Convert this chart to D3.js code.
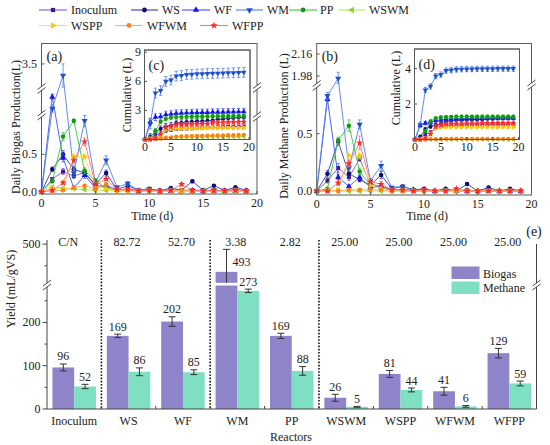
<!DOCTYPE html>
<html><head><meta charset="utf-8">
<script src="https://cdn.jsdelivr.net/npm/d3@7"></script>
<style>
body{margin:0;background:#fff}
svg{display:block}
</style></head>
<body><svg id="c" width="550" height="445"></svg>
<script>
// ---------------- DATA ----------------
const days = [0,1,2,3,4,5,6,7,8,9,10,11,12,13,14,15,16,17,18,19];
const reactors = ["Inoculum","WS","WF","WM","PP","WSWM","WSPP","WFWM","WFPP"];

// (a) daily biogas production (L)
const biogasDaily_Inoculum = [0,0.17,0.27,0.21,0.26,0.08,0.08,0.03,0.03,0.02,0.03,0.02,0.02,0.02,0.02,0.02,0.02,0.01,0.03,0.01];
const biogasDaily_WS       = [0,0.30,0.50,0.30,0.25,0.10,0.25,0.03,0.08,0.02,0.04,0.01,0.05,0.02,0.14,0.02,0.08,0.02,0.06,0.02];
const biogasDaily_WF       = [0,1.85,0.45,0.05,0.22,0.05,0.08,0.02,0.03,0.01,0.02,0.01,0.01,0.01,0.01,0.01,0.01,0.01,0.01,0.01];
const biogasDaily_WM       = [0,1.60,3.20,0.25,0.95,0.12,0.42,0.06,0.11,0.02,0.04,0.01,0.03,0.01,0.02,0.01,0.02,0.01,0.03,0.01];
const biogasDaily_PP       = [0,0.14,0.74,0.95,0.28,0.15,0.05,0.02,0.02,0.01,0.01,0.01,0.01,0.01,0.01,0.00,0.01,0.00,0.01,0.00];
const biogasDaily_WSWM     = [0,0.06,0.05,0.04,0.03,0.02,0.02,0.01,0.01,0.01,0.01,0.01,0.01,0.01,0.00,0.01,0.00,0.00,0.01,0.00];
const biogasDaily_WSPP     = [0,0.05,0.03,0.47,0.47,0.07,0.04,0.01,0.01,0.01,0.01,0.00,0.01,0.00,0.01,0.00,0.01,0.00,0.01,0.00];
const biogasDaily_WFWM     = [0,0.01,0.02,0.06,0.08,0.04,0.10,0.02,0.02,0.01,0.02,0.01,0.01,0.02,0.01,0.01,0.01,0.01,0.02,0.01];
const biogasDaily_WFPP     = [0,0.02,0.12,0.42,0.67,0.10,0.17,0.03,0.03,0.01,0.02,0.01,0.02,0.10,0.02,0.01,0.02,0.01,0.02,0.01];

const biogasErr_Inoculum = [0,0.02,0.04,0.03,0.03,0.02,0.01,0.01,0.01,0.01,0.01,0.01,0.01,0.01,0.01,0.01,0.01,0.01,0.01,0.01];
const biogasErr_WS       = [0,0.03,0.05,0.04,0.03,0.02,0.04,0.01,0.02,0.01,0.01,0.01,0.01,0.01,0.02,0.01,0.01,0.01,0.01,0.01];
const biogasErr_WF       = [0,0.06,0.05,0.02,0.04,0.02,0.02,0.01,0.01,0.01,0.01,0.01,0.01,0.01,0.01,0.01,0.01,0.01,0.01,0.01];
const biogasErr_WM       = [0,0.08,0.30,0.05,0.08,0.03,0.06,0.02,0.03,0.01,0.01,0.01,0.01,0.01,0.01,0.01,0.01,0.01,0.01,0.01];
const biogasErr_PP       = [0,0.02,0.05,0.02,0.04,0.02,0.01,0.01,0.01,0.01,0.01,0.01,0.01,0.01,0.01,0.01,0.01,0.01,0.01,0.01];
const biogasErr_WSWM     = [0,0.01,0.01,0.01,0.01,0.01,0.01,0.01,0.01,0.01,0.01,0.01,0.01,0.01,0.01,0.01,0.01,0.01,0.01,0.01];
const biogasErr_WSPP     = [0,0.01,0.01,0.04,0.04,0.02,0.01,0.01,0.01,0.01,0.01,0.01,0.01,0.01,0.01,0.01,0.01,0.01,0.01,0.01];
const biogasErr_WFWM     = [0,0.01,0.01,0.01,0.02,0.01,0.02,0.01,0.01,0.01,0.01,0.01,0.01,0.01,0.01,0.01,0.01,0.01,0.01,0.01];
const biogasErr_WFPP     = [0,0.01,0.02,0.04,0.05,0.02,0.02,0.01,0.01,0.01,0.01,0.01,0.01,0.02,0.01,0.01,0.01,0.01,0.01,0.01];

// (c) cumulative biogas (L)
const biogasCum_Inoculum = [0,0.17,0.44,0.65,0.91,0.99,1.07,1.10,1.13,1.15,1.18,1.20,1.22,1.24,1.26,1.28,1.30,1.31,1.34,1.35];
const biogasCum_WS       = [0,0.30,0.80,1.10,1.35,1.45,1.70,1.73,1.81,1.83,1.87,1.88,1.93,1.95,2.09,2.11,2.19,2.21,2.27,2.29];
const biogasCum_WF       = [0,1.85,2.30,2.35,2.57,2.62,2.70,2.72,2.75,2.76,2.78,2.79,2.80,2.81,2.82,2.83,2.84,2.85,2.86,2.87];
const biogasCum_WM       = [0,1.60,4.80,5.05,6.00,6.12,6.54,6.60,6.71,6.73,6.77,6.78,6.81,6.82,6.84,6.85,6.87,6.88,6.91,6.92];
const biogasCum_PP       = [0,0.14,0.88,1.83,2.11,2.26,2.31,2.33,2.35,2.36,2.37,2.38,2.39,2.40,2.41,2.41,2.42,2.42,2.43,2.43];
const biogasCum_WSWM     = [0,0.06,0.11,0.15,0.18,0.20,0.22,0.23,0.24,0.25,0.26,0.27,0.28,0.29,0.29,0.30,0.30,0.30,0.31,0.31];
const biogasCum_WSPP     = [0,0.05,0.08,0.55,1.02,1.09,1.13,1.14,1.15,1.16,1.17,1.17,1.18,1.18,1.19,1.19,1.20,1.20,1.21,1.21];
const biogasCum_WFWM     = [0,0.01,0.03,0.09,0.17,0.21,0.31,0.33,0.35,0.36,0.38,0.39,0.40,0.42,0.43,0.44,0.45,0.46,0.48,0.49];
const biogasCum_WFPP     = [0,0.02,0.14,0.56,1.23,1.33,1.50,1.53,1.56,1.57,1.59,1.60,1.62,1.72,1.74,1.75,1.77,1.78,1.80,1.81];
const biogasCumErr = [0.15,0.30,0.35,0.50,0.20,0.10,0.15,0.12,0.20];

// (b) daily methane production (L)
const methaneDaily_Inoculum = [0,0.09,0.20,0.12,0.28,0.06,0.04,0.01,0.01,0.00,0.01,0.00,0.01,0.00,0.01,0.00,0.01,0.00,0.01,0.00];
const methaneDaily_WS       = [0,0.15,0.43,0.15,0.10,0.05,0.14,0.02,0.04,0.01,0.02,0.00,0.02,0.00,0.06,0.00,0.03,0.00,0.02,0.00];
const methaneDaily_WF       = [0,0.80,0.12,0.04,0.12,0.03,0.04,0.01,0.01,0.01,0.01,0.00,0.01,0.00,0.00,0.00,0.00,0.00,0.00,0.00];
const methaneDaily_WM       = [0,0.83,1.96,0.20,0.58,0.09,0.22,0.03,0.04,0.01,0.01,0.00,0.01,0.00,0.00,0.00,0.01,0.00,0.00,0.00];
const methaneDaily_PP       = [0,0.02,0.44,0.57,0.17,0.05,0.02,0.01,0.01,0.00,0.00,0.00,0.00,0.00,0.00,0.00,0.00,0.00,0.00,0.00];
const methaneDaily_WSWM     = [0,0.01,0.00,0.00,0.00,0.00,0.00,0.00,0.00,0.00,0.00,0.00,0.00,0.00,0.00,0.00,0.00,0.00,0.00,0.00];
const methaneDaily_WSPP     = [0,0.00,0.01,0.31,0.31,0.05,0.02,0.00,0.00,0.00,0.00,0.00,0.00,0.00,0.00,0.00,0.00,0.00,0.00,0.00];
const methaneDaily_WFWM     = [0,0.00,0.00,0.01,0.01,0.01,0.01,0.00,0.00,0.00,0.00,0.00,0.00,0.00,0.00,0.00,0.00,0.00,0.00,0.00];
const methaneDaily_WFPP     = [0,0.00,0.07,0.24,0.42,0.08,0.06,0.01,0.01,0.00,0.01,0.00,0.00,0.02,0.00,0.00,0.00,0.00,0.00,0.00];

const methaneErr_Inoculum = [0,0.02,0.04,0.03,0.02,0.01,0.01,0.01,0.01,0.01,0.01,0.01,0.01,0.01,0.01,0.01,0.01,0.01,0.01,0.01];
const methaneErr_WS       = [0,0.03,0.03,0.02,0.02,0.01,0.03,0.01,0.01,0.01,0.01,0.01,0.01,0.01,0.01,0.01,0.01,0.01,0.01,0.01];
const methaneErr_WF       = [0,0.02,0.02,0.01,0.02,0.01,0.01,0.01,0.01,0.01,0.01,0.01,0.01,0.01,0.01,0.01,0.01,0.01,0.01,0.01];
const methaneErr_WM       = [0,0.03,0.05,0.03,0.04,0.02,0.04,0.01,0.01,0.01,0.01,0.01,0.01,0.01,0.01,0.01,0.01,0.01,0.01,0.01];
const methaneErr_PP       = [0,0.01,0.03,0.05,0.03,0.01,0.01,0.01,0.01,0.01,0.01,0.01,0.01,0.01,0.01,0.01,0.01,0.01,0.01,0.01];
const methaneErr_WSWM     = [0,0.01,0.02,0.01,0.01,0.01,0.01,0.01,0.01,0.01,0.01,0.01,0.01,0.01,0.01,0.01,0.01,0.01,0.01,0.01];
const methaneErr_WSPP     = [0,0.01,0.01,0.03,0.03,0.01,0.01,0.01,0.01,0.01,0.01,0.01,0.01,0.01,0.01,0.01,0.01,0.01,0.01,0.01];
const methaneErr_WFWM     = [0,0.01,0.01,0.01,0.01,0.01,0.01,0.01,0.01,0.01,0.01,0.01,0.01,0.01,0.01,0.01,0.01,0.01,0.01,0.01];
const methaneErr_WFPP     = [0,0.01,0.02,0.03,0.06,0.02,0.02,0.01,0.01,0.01,0.01,0.01,0.01,0.01,0.01,0.01,0.01,0.01,0.01,0.01];

// (d) cumulative methane (L)
const methaneCum_Inoculum = [0,0.09,0.29,0.41,0.69,0.75,0.79,0.80,0.81,0.81,0.82,0.82,0.83,0.83,0.84,0.84,0.85,0.85,0.86,0.86];
const methaneCum_WS       = [0,0.15,0.58,0.73,0.83,0.88,1.02,1.04,1.08,1.09,1.11,1.11,1.13,1.13,1.19,1.19,1.22,1.22,1.24,1.24];
const methaneCum_WF       = [0,0.80,0.92,0.96,1.08,1.11,1.15,1.16,1.17,1.18,1.19,1.19,1.20,1.20,1.20,1.20,1.20,1.20,1.20,1.20];
const methaneCum_WM       = [0,0.83,2.79,2.99,3.57,3.66,3.88,3.91,3.95,3.96,3.97,3.97,3.98,3.98,3.98,3.98,3.99,3.99,3.99,3.99];
const methaneCum_PP       = [0,0.02,0.46,1.03,1.20,1.25,1.27,1.28,1.29,1.29,1.29,1.29,1.29,1.29,1.29,1.29,1.29,1.29,1.29,1.29];
const methaneCum_WSWM     = [0,0.01,0.01,0.01,0.01,0.01,0.01,0.01,0.01,0.01,0.01,0.01,0.01,0.01,0.01,0.01,0.01,0.01,0.01,0.01];
const methaneCum_WSPP     = [0,0.00,0.01,0.32,0.63,0.68,0.70,0.70,0.70,0.70,0.70,0.70,0.70,0.70,0.70,0.70,0.70,0.70,0.70,0.70];
const methaneCum_WFWM     = [0,0.00,0.00,0.01,0.02,0.03,0.04,0.04,0.04,0.04,0.04,0.04,0.04,0.04,0.04,0.04,0.04,0.04,0.04,0.04];
const methaneCum_WFPP     = [0,0.00,0.07,0.31,0.73,0.81,0.87,0.88,0.89,0.89,0.90,0.90,0.90,0.92,0.92,0.92,0.92,0.92,0.92,0.92];
const methaneCumErr = [0.08,0.10,0.10,0.15,0.08,0.01,0.08,0.01,0.10];

// (e) yields (mL/gVS)
const cnLabels       = ["C/N","82.72","52.70","3.38","2.82","25.00","25.00","25.00","25.00"];
const biogasYield    = [96,169,202,436,169,26,81,41,129];
const biogasYieldErr = [8,4,11,52,6,8,8,9,11];
const biogasLabels   = ["96","169","202","493","169","26","81","41","129"];
const methaneYield   = [52,86,85,273,88,5,44,6,59];
const methaneYieldErr= [5,9,5.5,4,10,1,4.5,2,5.5];
const methaneLabels  = ["52","86","85","273","88","5","44","6","59"];
const separatorsAfter = ["Inoculum","WF","PP"];

// axis tick labels
const dayTicks = [0,5,10,15,20];
const aTicks = [0,0.5,3.5];
const bTicks = [0,0.5,1.98,2.16];
const cTicks = [3,6,9];
const dTicks = [2,4];
const eMajor = [0,100,200,500];
const eMinor = [50,150,250,450];

// ---------------- STYLE ----------------
const FONT = "Liberation Serif";
const styles = {
  Inoculum:{line:"#7c5ec6", mark:"#42198c", sym:d3.symbolSquare,   rot:0},
  WS:      {line:"#3a3aa6", mark:"#0c0c7c", sym:d3.symbolCircle,   rot:0},
  WF:      {line:"#4050ff", mark:"#1414e0", sym:d3.symbolTriangle, rot:0},
  WM:      {line:"#4f80e6", mark:"#1f50cc", sym:d3.symbolTriangle, rot:180},
  PP:      {line:"#36c836", mark:"#119a11", sym:d3.symbolCircle,   rot:0},
  WSWM:    {line:"#b2e852", mark:"#8ed024", sym:d3.symbolTriangle, rot:-90},
  WSPP:    {line:"#ffe04c", mark:"#ffc400", sym:d3.symbolTriangle, rot:90},
  WFWM:    {line:"#ffab68", mark:"#ff8014", sym:d3.symbolCircle,   rot:0},
  WFPP:    {line:"#ff7474", mark:"#ff2626", sym:d3.symbolStar,     rot:0}
};
const FRAME = "#5a5a5a";
const BIO = "#8d84c9", MET = "#7fdfc3";

const svg = d3.select("#c");

function txt(g, x, y, s, size, anchor){
  return g.append("text").attr("x",x).attr("y",y).attr("font-size",size).attr("font-family",FONT)
    .attr("fill","#222").attr("text-anchor",anchor||"start").text(s);
}
function vtxt(g, x, y, s, size){
  g.append("text").attr("transform",`translate(${x},${y}) rotate(-90)`).attr("font-size",size).attr("font-family",FONT)
    .attr("fill","#222").attr("text-anchor","middle").text(s);
}
function breakMark(g, x, y){
  g.append("rect").attr("x",x-4).attr("y",y-2).attr("width",8).attr("height",4).attr("fill","#fff");
  g.append("line").attr("x1",x-4).attr("y1",y+1).attr("x2",x+4).attr("y2",y-5).attr("stroke","#333").attr("stroke-width",0.9);
  g.append("line").attr("x1",x-4).attr("y1",y+5).attr("x2",x+4).attr("y2",y-1).attr("stroke","#333").attr("stroke-width",0.9);
}

function plotSeries(g, xs, ys, values, errs, st, symSize){
  const pts = days.map((d,i)=>({d, v:values[i], e:(Array.isArray(errs)?errs[i]:(values[i]>0?errs:0))}));
  g.append("path").datum(pts).attr("fill","none").attr("stroke",st.line).attr("stroke-width",0.9)
    .attr("d", d3.line().x(p=>xs(p.d)).y(p=>ys(p.v)));
  const eb = g.append("g").attr("stroke",st.line).attr("stroke-width",0.8);
  pts.filter(p=>p.e>0).forEach(p=>{
    const x=xs(p.d), y1=ys(p.v+p.e), y2=ys(p.v-p.e);
    eb.append("line").attr("x1",x).attr("x2",x).attr("y1",y1).attr("y2",y2);
    eb.append("line").attr("x1",x-1.6).attr("x2",x+1.6).attr("y1",y1).attr("y2",y1);
    eb.append("line").attr("x1",x-1.6).attr("x2",x+1.6).attr("y1",y2).attr("y2",y2);
  });
  g.selectAll(null).data(pts).join("path")
    .attr("transform",p=>`translate(${xs(p.d)},${ys(p.v)}) rotate(${st.rot})`)
    .attr("d", d3.symbol().type(st.sym).size(symSize))
    .attr("fill", st.mark);
}

// ---------------- LEGEND ----------------
const legendPos = [
  {x0:39,x1:67,tx:71,y:10},{x0:131,x1:158,tx:162,y:10},{x0:182,x1:210,tx:214,y:10},
  {x0:236,x1:263,tx:267,y:10},{x0:289,x1:317,tx:320,y:10},{x0:339,x1:365,tx:369,y:10},
  {x0:39,x1:67,tx:71,y:25.5},{x0:115,x1:143,tx:147,y:25.5},{x0:200,x1:228,tx:232,y:25.5}
];
const lg = svg.append("g");
reactors.forEach((r,i)=>{
  const p = legendPos[i], st = styles[r];
  lg.append("line").attr("x1",p.x0).attr("x2",p.x1).attr("y1",p.y).attr("y2",p.y).attr("stroke",st.line).attr("stroke-width",1.1);
  lg.append("path").attr("transform",`translate(${(p.x0+p.x1)/2},${p.y}) rotate(${st.rot})`)
    .attr("d", d3.symbol().type(st.sym).size(18)).attr("fill",st.mark);
  txt(lg, p.tx, p.y+4, r, 12);
});

// ---------------- MAIN PANELS ----------------
function mainPanel(cfg){
  const g = svg.append("g");
  const xs = d3.scaleLinear().domain([0,20]).range([cfg.x0,cfg.x1]);
  const ys = d3.scaleLinear().domain(cfg.yDom).range(cfg.yRng);
  reactors.forEach((r,i)=>plotSeries(g, xs, ys, cfg.data[i], cfg.err[i], styles[r], 16));
  g.append("rect").attr("x",cfg.x0).attr("y",cfg.top).attr("width",cfg.x1-cfg.x0).attr("height",cfg.bottom-cfg.top)
    .attr("fill","none").attr("stroke",FRAME).attr("stroke-width",1);
  dayTicks.forEach(t=>{
    g.append("line").attr("x1",xs(t)).attr("x2",xs(t)).attr("y1",cfg.bottom).attr("y2",cfg.bottom-3).attr("stroke",FRAME);
    txt(g, xs(t), cfg.bottom+12.5, String(t), 12, "middle");
  });
  cfg.yTicks.forEach((t,k)=>{
    g.append("line").attr("x1",cfg.x0).attr("x2",cfg.x0+3).attr("y1",ys(t)).attr("y2",ys(t)).attr("stroke",FRAME);
    txt(g, cfg.x0-4.5, ys(t)+4, cfg.yLabels[k], 12, "end");
  });
  cfg.breaksL.forEach(y=>breakMark(g, cfg.x0, y));
  cfg.breaksR.forEach(y=>breakMark(g, cfg.x1, y));
  txt(g, cfg.x0+5, 60.5, cfg.tag, 14);
  txt(g, (cfg.x0+cfg.x1)/2+3, 220, "Time (d)", 12, "middle");
  vtxt(g, cfg.titleX, cfg.titleY, cfg.title, 12);
  return g;
}
function inset(cfg){
  const g = svg.append("g");
  g.append("rect").attr("x",cfg.x0).attr("y",cfg.top).attr("width",cfg.x1-cfg.x0).attr("height",cfg.bottom-cfg.top)
    .attr("fill","#fff").attr("stroke",FRAME).attr("stroke-width",1);
  const xs = d3.scaleLinear().domain([0,20]).range([cfg.x0+0.5,cfg.x1-1]);
  const ys = d3.scaleLinear().domain([0,cfg.yMax]).range([cfg.bottom,cfg.yMaxPx]);
  reactors.forEach((r,i)=>plotSeries(g, xs, ys, cfg.data[i], cfg.err[i], styles[r], 13));
  g.append("rect").attr("x",cfg.x0).attr("y",cfg.top).attr("width",cfg.x1-cfg.x0).attr("height",cfg.bottom-cfg.top)
    .attr("fill","none").attr("stroke",FRAME).attr("stroke-width",1);
  dayTicks.forEach(t=>{
    g.append("line").attr("x1",xs(t)).attr("x2",xs(t)).attr("y1",cfg.bottom).attr("y2",cfg.bottom-2.5).attr("stroke",FRAME);
    txt(g, xs(t), cfg.bottom+11.5, String(t), 12, "middle");
  });
  cfg.yTicks.forEach(t=>{
    g.append("line").attr("x1",cfg.x0).attr("x2",cfg.x0+2.5).attr("y1",ys(t)).attr("y2",ys(t)).attr("stroke",FRAME);
    txt(g, cfg.x0-3.5, ys(t)+4, String(t), 12, "end");
  });
  txt(g, cfg.x0+4, cfg.top+20, cfg.tag, 14);
  vtxt(g, cfg.titleX, cfg.titleY, "Cumulative (L)", 12);
}

mainPanel({
  x0:41.5, x1:257, top:43.5, bottom:194,
  yDom:[-0.03,1.02,1.5,2.0,2.9,4.03], yRng:[194,115.5,113,90,87,43.5],
  yTicks:aTicks, yLabels:["0.0","0.5","3.5"],
  breaksL:[115,88.5], breaksR:[116.5,87.5],
  data:[biogasDaily_Inoculum,biogasDaily_WS,biogasDaily_WF,biogasDaily_WM,biogasDaily_PP,biogasDaily_WSWM,biogasDaily_WSPP,biogasDaily_WFWM,biogasDaily_WFPP],
  err:[biogasErr_Inoculum,biogasErr_WS,biogasErr_WF,biogasErr_WM,biogasErr_PP,biogasErr_WSWM,biogasErr_WSPP,biogasErr_WFWM,biogasErr_WFPP],
  tag:"(a)", title:"Daily Biogas Production(L)", titleX:20, titleY:127
});
inset({
  x0:144.5, x1:250, top:50, bottom:139.5, yMax:9, yMaxPx:52.3, yTicks:cTicks,
  data:[biogasCum_Inoculum,biogasCum_WS,biogasCum_WF,biogasCum_WM,biogasCum_PP,biogasCum_WSWM,biogasCum_WSPP,biogasCum_WFWM,biogasCum_WFPP],
  err:biogasCumErr, tag:"(c)", titleX:131, titleY:95
});
mainPanel({
  x0:316.7, x1:531.5, top:43.5, bottom:195,
  yDom:[-0.035,0.9,1.92,2.246], yRng:[195,87.8,83.3,43.5],
  yTicks:bTicks, yLabels:["0.0","0.5","1.98","2.16"],
  breaksL:[85.5], breaksR:[85],
  data:[methaneDaily_Inoculum,methaneDaily_WS,methaneDaily_WF,methaneDaily_WM,methaneDaily_PP,methaneDaily_WSWM,methaneDaily_WSPP,methaneDaily_WFWM,methaneDaily_WFPP],
  err:[methaneErr_Inoculum,methaneErr_WS,methaneErr_WF,methaneErr_WM,methaneErr_PP,methaneErr_WSWM,methaneErr_WSPP,methaneErr_WFWM,methaneErr_WFPP],
  tag:"(b)", title:"Daily Methane Production (L)", titleX:288, titleY:126
});
inset({
  x0:414.5, x1:519.5, top:49, bottom:139.5, yMax:4, yMaxPx:68.5, yTicks:dTicks,
  data:[methaneCum_Inoculum,methaneCum_WS,methaneCum_WF,methaneCum_WM,methaneCum_PP,methaneCum_WSWM,methaneCum_WSPP,methaneCum_WFWM,methaneCum_WFPP],
  err:methaneCumErr, tag:"(d)", titleX:400, titleY:88
});

// ---------------- PANEL (e) ----------------
const ge = svg.append("g");
const xE = d3.scaleBand().domain(reactors).range([47,536.5]).paddingInner(0.2).paddingOuter(0.1);
const yE = d3.scaleLinear().domain([0,286,410,520]).range([409,285.2,283.1,235.5]);
const bw = xE.bandwidth()/2, step = xE.step();
const E_TOP = 240;

separatorsAfter.forEach(r=>{
  const x = xE(r) + xE.bandwidth() + step*xE.paddingInner()/2;
  ge.append("line").attr("x1",x).attr("x2",x).attr("y1",E_TOP).attr("y2",409)
    .attr("stroke","#111").attr("stroke-width",1.6).attr("stroke-dasharray","1.6,1.6");
});
reactors.forEach((r,i)=>{
  const x = xE(r);
  ge.append("rect").attr("x",x).attr("y",yE(biogasYield[i])).attr("width",bw).attr("height",yE(0)-yE(biogasYield[i])).attr("fill",BIO);
  ge.append("rect").attr("x",x+bw).attr("y",yE(methaneYield[i])).attr("width",bw).attr("height",yE(0)-yE(methaneYield[i])).attr("fill",MET);
});
function errBar(cx, v, e){
  const y1=yE(v+e), y2=yE(v-e);
  ge.append("line").attr("x1",cx).attr("x2",cx).attr("y1",y1).attr("y2",y2).attr("stroke","#333").attr("stroke-width",1);
  [y1,y2].forEach(y=>ge.append("line").attr("x1",cx-3.5).attr("x2",cx+3.5).attr("y1",y).attr("y2",y).attr("stroke","#333").attr("stroke-width",1));
}
reactors.forEach((r,i)=>{
  const x = xE(r);
  errBar(x+bw/2, biogasYield[i], biogasYieldErr[i]);
  errBar(x+bw*1.5, methaneYield[i], methaneYieldErr[i]);
});
reactors.forEach((r,i)=>{
  [[biogasYield[i],0],[methaneYield[i],1]].forEach(([v,k])=>{
    if (v>410) ge.append("rect").attr("x",xE(r)+k*bw-0.5).attr("y",yE(410)-0.3).attr("width",bw+1)
      .attr("height",yE(286)-yE(410)+0.6).attr("fill","#fff");
  });
});
reactors.forEach((r,i)=>{
  const x = xE(r);
  if (biogasLabels[i] === String(biogasYield[i]))
    txt(ge, x+bw/2, yE(biogasYield[i]+biogasYieldErr[i])-3.5, biogasLabels[i], 12, "middle");
  else
    txt(ge, x+bw/2+15, yE(biogasYield[i]+biogasYieldErr[i])+17, biogasLabels[i], 12, "middle");
  txt(ge, x+bw*1.5, yE(methaneYield[i]+methaneYieldErr[i])-3.5, methaneLabels[i], 12, "middle");
  txt(ge, x+xE.bandwidth()/2 + (i===0?-6:-1.5), 245.5, cnLabels[i], 12, "middle");
  txt(ge, x+xE.bandwidth()/2, 425, r, 12, "middle");
});
ge.append("line").attr("x1",47).attr("x2",536.5).attr("y1",409).attr("y2",409).attr("stroke","#444");
ge.append("line").attr("x1",47).attr("x2",47).attr("y1",E_TOP).attr("y2",409).attr("stroke","#444");
ge.append("line").attr("x1",536.5).attr("x2",536.5).attr("y1",E_TOP+4).attr("y2",409).attr("stroke","#444");
reactors.slice(1).forEach(r=>{
  const x = xE(r) - step*xE.paddingInner()/2;
  ge.append("line").attr("x1",x).attr("x2",x).attr("y1",409).attr("y2",406).attr("stroke","#444");
});
eMajor.forEach(t=>{
  ge.append("line").attr("x1",42.5).attr("x2",47).attr("y1",yE(t)).attr("y2",yE(t)).attr("stroke","#444");
  txt(ge, 40.5, yE(t)+4, String(t), 12, "end");
});
eMinor.forEach(t=>{
  ge.append("line").attr("x1",44.5).attr("x2",47).attr("y1",yE(t)).attr("y2",yE(t)).attr("stroke","#444");
});
breakMark(ge, 47, 285);
breakMark(ge, 536.5, 285);
vtxt(ge, 15, 289, "Yield (mL/gVS)", 12);
txt(ge, 291, 441, "Reactors", 12, "middle");
txt(ge, 534, 236, "(e)", 14, "middle");
ge.append("rect").attr("x",451.5).attr("y",266.5).attr("width",28).attr("height",12.5).attr("fill",BIO);
ge.append("rect").attr("x",451.5).attr("y",281.5).attr("width",28).attr("height",12.5).attr("fill",MET);
txt(ge, 483, 277.5, "Biogas", 12);
txt(ge, 483, 292, "Methane", 12);
</script></body></html>
